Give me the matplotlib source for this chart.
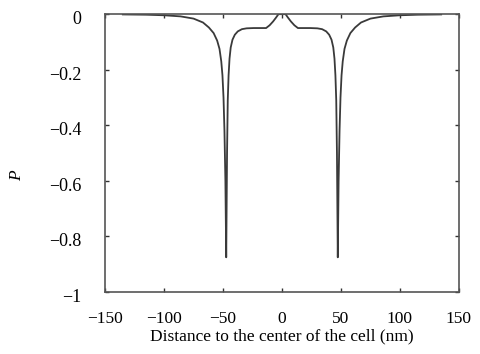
import matplotlib
matplotlib.use('agg')
import matplotlib.pyplot as plt
from matplotlib.transforms import ScaledTranslation

# distance to cell center (nm) and P
dist = [-135, -115, -100, -86, -75, -67, -62, -58, -55, -53, -51.5, -50.5,
        -49.6, -48.8, -48, -47.3, -46.6, -46, -45.3, -44.5, -43.5, -42, -40,
        -37.5, -34, -30, -24, -18, -13.5, -10.5, -7.5, -5, -3, 0,
        3, 5, 7.5, 10.5, 13.5, 18, 24, 30, 34, 37.5, 40, 42, 43.5, 44.5,
        45.3, 46, 46.6, 47.3, 48, 48.8, 49.6, 50.5, 51.5, 53, 55, 58, 62,
        67, 75, 86, 100, 115, 135]
P = [-0.001, -0.002, -0.004, -0.008, -0.016, -0.03, -0.048, -0.068, -0.095,
     -0.125, -0.17, -0.22, -0.3, -0.42, -0.6, -0.875, -0.5, -0.31, -0.22,
     -0.16, -0.12, -0.092, -0.074, -0.062, -0.054, -0.051, -0.05, -0.05,
     -0.05, -0.04, -0.026, -0.012, 0.0, 0.0,
     0.0, -0.012, -0.026, -0.04, -0.05, -0.05, -0.05, -0.051, -0.054,
     -0.062, -0.074, -0.092, -0.12, -0.16, -0.22, -0.31, -0.5, -0.875,
     -0.6, -0.42, -0.3, -0.22, -0.17, -0.125, -0.095, -0.068, -0.048,
     -0.03, -0.016, -0.008, -0.004, -0.002, -0.001]

xticks = [-150, -100, -50, 0, 50, 100, 150]
yticks = [0, -0.2, -0.4, -0.6, -0.8, -1]

plt.rcParams['font.family'] = ['Liberation Serif', 'DejaVu Serif']
plt.rcParams['font.size'] = 12.5

fig = plt.figure(figsize=(4.8, 3.54), dpi=100)
ax = fig.add_axes([0.219, 0.175, 0.737, 0.785])

ax.plot(dist, P, color='#3a3a3a', lw=1.3)

ax.set_xlim(-150, 150)
ax.set_ylim(-1, 0)
ax.set_xticks(xticks)
ax.set_yticks(yticks)
ax.set_yticklabels(['0', '\u22120.2', '\u22120.4', '\u22120.6', '\u22120.8', '\u22121'],
                   fontsize=13)
ax.tick_params(direction='in', length=3, width=1, color='#333333',
               top=True, right=True)
ax.tick_params(axis='x', pad=14)
ax.tick_params(axis='y', pad=17)

# labels in the reference sit a little below their ticks
shift = ScaledTranslation(0, -2.5 / 72, fig.dpi_scale_trans)
for lab in ax.get_yticklabels():
    lab.set_transform(lab.get_transform() + shift)

for s in ax.spines.values():
    s.set_color('#555555')
    s.set_linewidth(1.2)

ax.set_xlabel('Distance to the center of the cell (nm)', labelpad=1)
ax.set_ylabel('P', style='italic')
ax.yaxis.set_label_coords(-0.225, 0.42)

fig.savefig('out.png', dpi=100)
